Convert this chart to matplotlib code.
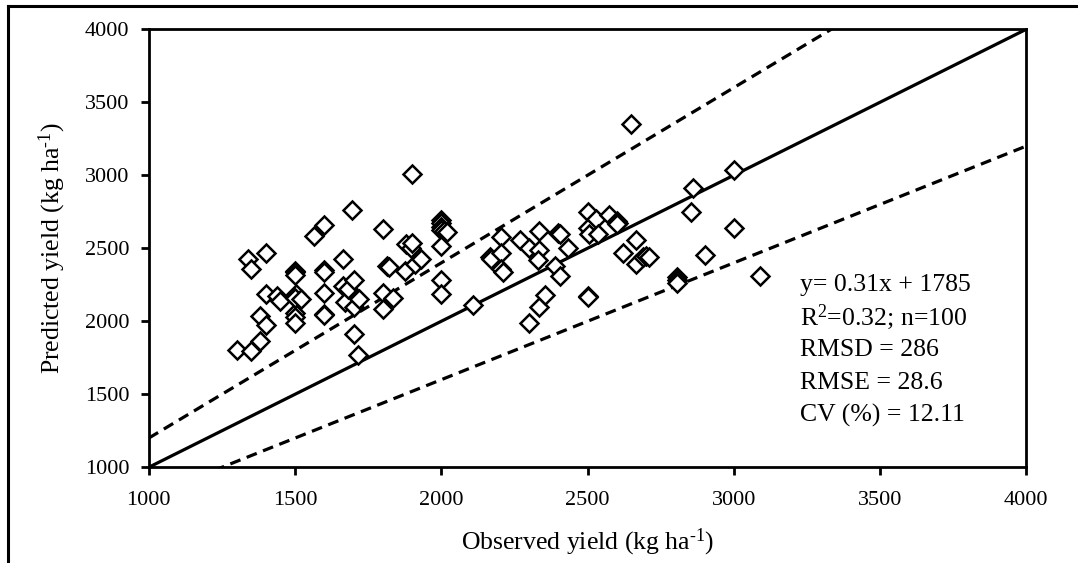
import matplotlib
matplotlib.use("Agg")
import matplotlib.pyplot as plt
from matplotlib.lines import Line2D
import numpy as np

plt.rcParams['font.family'] = ['Liberation Serif', 'DejaVu Serif']
plt.rcParams['mathtext.fontset'] = 'custom'
plt.rcParams['mathtext.rm'] = 'Liberation Serif'
plt.rcParams['mathtext.it'] = 'Liberation Serif:italic'

# observed / predicted yield (kg/ha)
observed = [1300, 1340, 1350, 1350, 1380, 1380, 1400, 1400, 1400, 1440,
            1450, 1500, 1500, 1500, 1505, 1500, 1500, 1500, 1500, 1520,
            1565, 1600, 1600, 1600, 1600, 1600, 1600, 1665, 1665, 1670,
            1680, 1695, 1700, 1700, 1700, 1715, 1720, 1800, 1800, 1800,
            1815, 1820, 1835, 1875, 1880, 1895, 1900, 1900, 1910, 1930,
            2000, 2000, 2000, 2000, 2010, 2020, 2000, 2000, 2000, 2110,
            2165, 2170, 2205, 2205, 2205, 2210, 2270, 2300, 2300, 2335,
            2335, 2330, 2335, 2355, 2390, 2400, 2405, 2405, 2435, 2500,
            2500, 2505, 2500, 2500, 2530, 2535, 2575, 2600, 2605, 2600,
            2620, 2650, 2665, 2665, 2690, 2700, 2710, 2805, 2805, 2805,
            2855, 2860, 2900, 3000, 3000, 3090]
predicted = [1805, 2425, 2360, 1795, 1865, 2035, 1975, 2465, 2185, 2175,
             2140, 2345, 2335, 2320, 2185, 2060, 2030, 1985, 2160, 2150,
             2585, 2660, 2350, 2340, 2195, 2050, 2040, 2425, 2245, 2135,
             2220, 2760, 2285, 2100, 1915, 1770, 2150, 2635, 2195, 2085,
             2380, 2370, 2160, 2345, 2530, 2500, 2535, 3010, 2395, 2430,
             2695, 2670, 2645, 2625, 2620, 2610, 2515, 2285, 2185, 2110,
             2440, 2425, 2580, 2465, 2360, 2340, 2560, 2505, 1990, 2620,
             2490, 2420, 2100, 2180, 2380, 2605, 2595, 2310, 2500, 2750,
             2640, 2600, 2175, 2165, 2700, 2600, 2725, 2690, 2675, 2665,
             2465, 3350, 2560, 2390, 2440, 2450, 2440, 2305, 2280, 2260,
             2750, 2915, 2455, 3035, 2640, 2310]

stats = ["y= 0.31x + 1785", "R$^{2}$=0.32; n=100", "RMSD = 286",
         "RMSE = 28.6", "CV (%) = 12.11"]

fig = plt.figure(figsize=(10.78, 5.63), dpi=100)
ax = fig.add_axes([0.138, 0.170, 0.814, 0.778])

xx = np.array([1000, 4000])
ax.plot(xx, xx, '-', c='k', lw=2.3)
ax.plot(xx, 1.2 * xx, '--', c='k', lw=2.3, dashes=(3.4, 2.1))
ax.plot(xx, 0.8 * xx, '--', c='k', lw=2.3, dashes=(3.4, 2.1))

ax.plot(observed, predicted, 'D', mfc='white', mec='k', mew=1.8, ms=9.5,
        ls='none', zorder=3)

ax.set_xlim(1000, 4000)
ax.set_ylim(1000, 4000)
ax.set_xticks(range(1000, 4001, 500))
ax.set_yticks(range(1000, 4001, 500))
ax.tick_params(direction='out', length=6, width=2, labelsize=16, pad=8)
ax.tick_params(axis='x', pad=11)
for s in ax.spines.values():
    s.set_linewidth(2)

ax.set_xlabel(r"Observed yield (kg ha$^{\text{-1}}$)", fontsize=18.5, labelpad=12)
ax.set_ylabel(r"Predicted yield (kg ha$^{\text{-1}}$)", fontsize=18.5, labelpad=12)

for i, t in enumerate(stats):
    ax.text(0.742, 0.417 - i * 0.0745, t, transform=ax.transAxes,
            fontsize=18.5, va='center', ha='left')

# outer frame (left and top edges only)
fig.add_artist(Line2D([0.0078, 0.0078], [0, 0.99], transform=fig.transFigure,
                      c='k', lw=2.2))
fig.add_artist(Line2D([0.0078, 1.0], [0.99, 0.99], transform=fig.transFigure,
                      c='k', lw=2.2))

fig.savefig("out.png", dpi=100)
